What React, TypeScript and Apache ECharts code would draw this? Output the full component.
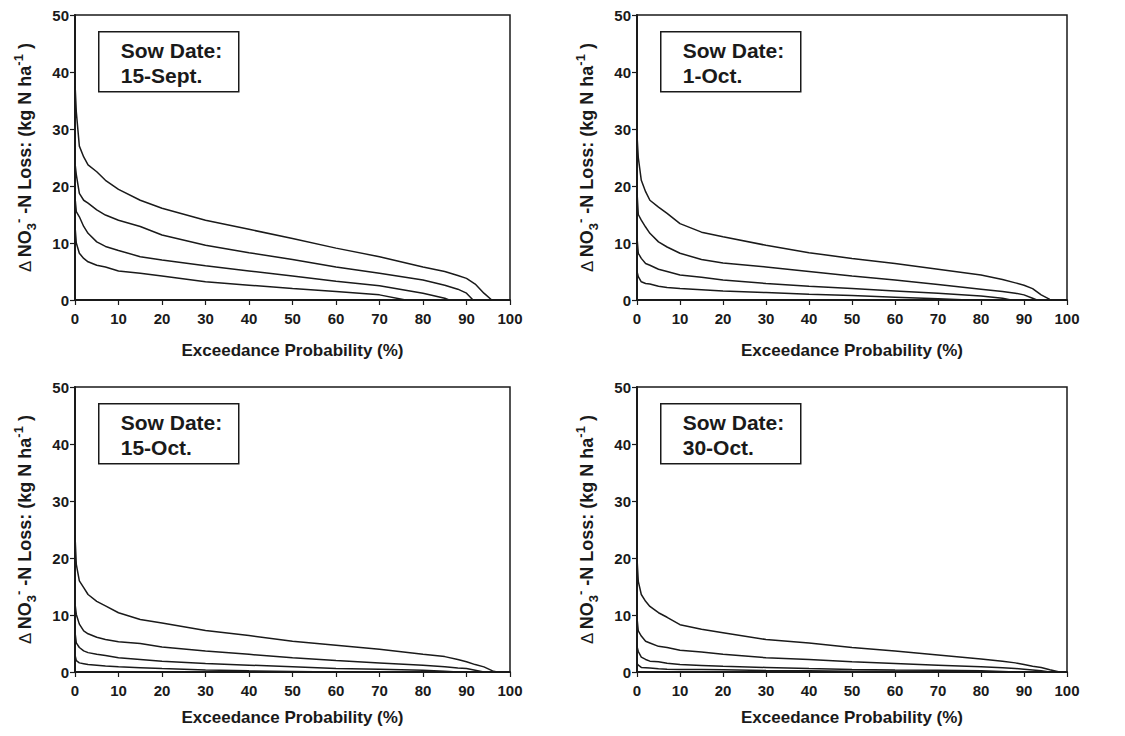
import React, { useEffect, useRef } from "react";
import * as echarts from "echarts";

// Exceedance probability (%) sample points shared by all curves
const PROB = [0, 0.3, 1, 2, 3, 5, 7, 10, 15, 20, 30, 40, 50, 60, 70, 80, 85, 88, 90, 92, 94, 96, 98];

const X_TICKS = [0, 10, 20, 30, 40, 50, 60, 70, 80, 90, 100];
const Y_TICKS = [0, 10, 20, 30, 40, 50];

const PANEL_LABELS = ["15-Sept.", "1-Oct.", "15-Oct.", "30-Oct."];

// ΔNO3-N loss (kg N/ha) for each curve, at PROB points until the curve reaches 0 at its end probability
const SEP15_A = [38, 33, 27, 25.1, 23.7, 22.5, 21, 19.4, 17.5, 16.1, 14.0, 12.4, 10.8, 9.1, 7.6, 5.8, 5.0, 4.3, 3.8, 2.8, 1.2];
const SEP15_B = [24, 22, 18.7, 17.5, 17, 15.8, 14.9, 14.0, 12.9, 11.4, 9.6, 8.3, 7.1, 5.8, 4.7, 3.5, 2.6, 1.9, 1.2];
const SEP15_C = [18, 15.5, 14.6, 12.9, 11.7, 10.2, 9.4, 8.7, 7.6, 7.0, 6.0, 5.1, 4.2, 3.3, 2.5, 1.2, 0.3];
const SEP15_D = [13, 10, 8.2, 7.3, 6.7, 6.1, 5.8, 5.1, 4.7, 4.2, 3.2, 2.6, 2.0, 1.5, 0.9];
const SEP15_END = [95.8, 91.5, 86, 76];

const OCT1_A = [29, 25, 21, 19, 17.5, 16.3, 15.2, 13.4, 11.9, 11.1, 9.6, 8.3, 7.3, 6.4, 5.4, 4.4, 3.6, 3.0, 2.6, 2.0, 0.9, 0.1];
const OCT1_B = [19, 15, 14, 12.8, 11.7, 10.2, 9.3, 8.2, 7.1, 6.5, 5.8, 5.0, 4.2, 3.5, 2.7, 1.9, 1.5, 1.2, 0.9, 0.3];
const OCT1_C = [11, 8.2, 7.3, 6.4, 6.1, 5.4, 5.0, 4.4, 4.0, 3.5, 2.9, 2.4, 2.0, 1.6, 1.2, 0.7, 0.3];
const OCT1_D = [5, 4.1, 3.2, 2.9, 2.8, 2.4, 2.2, 2.0, 1.8, 1.6, 1.3, 1.0, 0.8, 0.5, 0.2];
const OCT1_END = [96.5, 93, 87, 77];

const OCT15_A = [24, 18.9, 16, 14.8, 13.6, 12.4, 11.6, 10.4, 9.2, 8.6, 7.3, 6.4, 5.4, 4.7, 4.0, 3.1, 2.7, 2.2, 1.8, 1.3, 0.9, 0.2];
const OCT15_B = [12, 10.1, 8.4, 7.2, 6.7, 6.1, 5.7, 5.3, 5.0, 4.4, 3.7, 3.1, 2.5, 2.0, 1.6, 1.2, 0.9, 0.7, 0.6, 0.3];
const OCT15_C = [7, 5.1, 4.3, 3.7, 3.4, 3.1, 2.9, 2.5, 2.2, 1.9, 1.5, 1.2, 0.9, 0.6, 0.5, 0.3, 0.15];
const OCT15_D = [3, 2.0, 1.6, 1.45, 1.3, 1.2, 1.05, 0.9, 0.75, 0.6, 0.35, 0.2, 0.1];
const OCT15_END = [97, 94, 88, 60];

const OCT30_A = [20, 15.9, 13.6, 12.4, 11.5, 10.4, 9.6, 8.3, 7.5, 6.9, 5.7, 5.1, 4.3, 3.7, 3.0, 2.3, 1.9, 1.6, 1.3, 1.0, 0.8, 0.4, 0.05];
const OCT30_B = [9.5, 7.2, 6.3, 5.4, 5.1, 4.5, 4.3, 3.8, 3.5, 3.1, 2.5, 2.2, 1.8, 1.5, 1.2, 0.9, 0.75, 0.6, 0.5, 0.35, 0.2];
const OCT30_C = [4.5, 3.6, 2.6, 2.2, 1.9, 1.8, 1.55, 1.3, 1.15, 1.0, 0.8, 0.6, 0.45, 0.35, 0.3, 0.2, 0.1];
const OCT30_D = [1.5, 1.2, 0.8, 0.75, 0.7, 0.55, 0.5, 0.45, 0.42, 0.4, 0.25, 0.2, 0.15, 0.15, 0.12, 0.05];
const OCT30_END = [98.3, 96, 88, 82];

const PANELS = [
  { curves: [SEP15_A, SEP15_B, SEP15_C, SEP15_D], ends: SEP15_END },
  { curves: [OCT1_A, OCT1_B, OCT1_C, OCT1_D], ends: OCT1_END },
  { curves: [OCT15_A, OCT15_B, OCT15_C, OCT15_D], ends: OCT15_END },
  { curves: [OCT30_A, OCT30_B, OCT30_C, OCT30_D], ends: OCT30_END },
];

const FONT = "Arial, 'Liberation Sans', Helvetica, sans-serif";
const INK = "#1a1a1a";

const GRIDS = [
  { left: 75, top: 15, width: 435, height: 285 },
  { left: 637, top: 15, width: 430, height: 285 },
  { left: 75, top: 387, width: 435, height: 285 },
  { left: 637, top: 387, width: 430, height: 285 },
];
const XNAME_GAP = [42, 42, 37, 37];

function buildCurve(values: number[], end: number) {
  const pts: [number, number][] = [];
  for (let i = 0; i < values.length; i++) pts.push([PROB[i], values[i]]);
  pts.push([end, 0]);
  return pts;
}

export default function App() {
  const ref = useRef<HTMLDivElement>(null);
  useEffect(() => {
    if (!ref.current) return;
    const chart = echarts.init(ref.current, undefined, { renderer: "svg" });

    const grid: any[] = [];
    const xAxis: any[] = [];
    const yAxis: any[] = [];
    const series: any[] = [];
    const graphic: any[] = [];

    GRIDS.forEach((g, i) => {
      grid.push({
        ...g,
        show: true,
        borderColor: INK,
        borderWidth: 1.5,
        backgroundColor: "transparent",
      });
      xAxis.push({
        type: "value",
        gridIndex: i,
        min: X_TICKS[0],
        max: X_TICKS[X_TICKS.length - 1],
        interval: X_TICKS[1] - X_TICKS[0],
        name: "Exceedance Probability (%)",
        nameLocation: "middle",
        nameGap: XNAME_GAP[i],
        nameTextStyle: { fontFamily: FONT, fontWeight: "bold", fontSize: 17, color: INK },
        axisLine: { show: true, onZero: false, lineStyle: { color: INK, width: 2 } },
        axisTick: { show: true, inside: false, length: 5, lineStyle: { color: INK, width: 1.2 } },
        axisLabel: { fontFamily: FONT, fontWeight: "bold", fontSize: 15, color: INK, margin: 11 },
        splitLine: { show: false },
      });
      yAxis.push({
        type: "value",
        gridIndex: i,
        min: Y_TICKS[0],
        max: Y_TICKS[Y_TICKS.length - 1],
        interval: Y_TICKS[1] - Y_TICKS[0],
        name: "{d|Δ} {b|NO}{sub|3}{sup|-}{b| -N Loss: (kg N ha}{sup|-1}{b| )}",
        nameLocation: "middle",
        nameGap: 37,
        nameTextStyle: {
          fontFamily: FONT,
          color: INK,
          rich: {
            d: { fontFamily: FONT, fontSize: 17, fontWeight: "normal", color: INK, lineHeight: 26 },
            b: { fontFamily: FONT, fontSize: 18, fontWeight: "bold", color: INK, lineHeight: 26 },
            sub: { fontFamily: FONT, fontSize: 13, fontWeight: "bold", color: INK, lineHeight: 13, verticalAlign: "bottom" },
            sup: { fontFamily: FONT, fontSize: 13, fontWeight: "bold", color: INK, lineHeight: 13, verticalAlign: "top" },
          },
        },
        axisLine: { show: true, onZero: false, lineStyle: { color: INK, width: 2 } },
        axisTick: { show: true, inside: false, length: 5, lineStyle: { color: INK, width: 1.2 } },
        axisLabel: { fontFamily: FONT, fontWeight: "bold", fontSize: 15, color: INK, margin: 6 },
        splitLine: { show: false },
      });

      const p = PANELS[i];
      p.curves.forEach((vals, k) => {
        series.push({
          type: "line",
          xAxisIndex: i,
          yAxisIndex: i,
          data: buildCurve(vals, p.ends[k]),
          symbol: "none",
          smooth: false,
          lineStyle: { color: INK, width: 1.5 },
          z: 3,
        });
      });

      graphic.push({
        type: "group",
        left: g.left + 23,
        top: g.top + 16,
        children: [
          {
            type: "rect",
            shape: { x: 0, y: 0, width: 140, height: 60 },
            style: { fill: "#fff", stroke: INK, lineWidth: 1.5 },
          },
          {
            type: "text",
            x: 22,
            y: 6,
            style: {
              text: "Sow Date:\n" + PANEL_LABELS[i],
              fontFamily: FONT,
              fontWeight: "bold",
              fontSize: 21,
              lineHeight: 25,
              fill: INK,
            },
          },
        ],
      });
    });

    chart.setOption({
      animation: false,
      backgroundColor: "#fff",
      grid,
      xAxis,
      yAxis,
      series,
      graphic,
    });
    return () => chart.dispose();
  }, []);

  return (
    <div
      ref={ref}
      style={{ position: "fixed", left: 0, top: 0, width: 1125, height: 736, background: "#fff" }}
    />
  );
}
